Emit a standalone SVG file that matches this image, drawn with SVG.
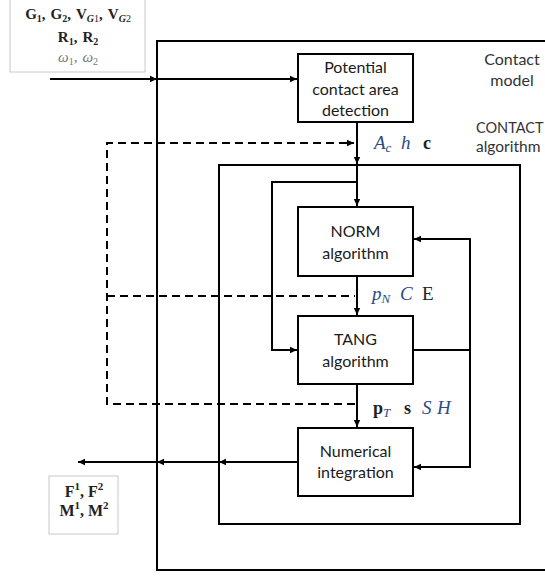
<svg xmlns="http://www.w3.org/2000/svg" width="545" height="576" viewBox="0 0 545 576">
<defs>
<marker id="ah" markerUnits="userSpaceOnUse" markerWidth="8" markerHeight="8" refX="7" refY="4" orient="auto">
<path d="M0,0.8 L7,4 L0,7.2 Z" fill="#000"/>
</marker>
<style>
.box{fill:#fff;stroke:#000;stroke-width:2}
.frame{fill:none;stroke:#000;stroke-width:2}
.ibox{fill:#fff;stroke:#c8c8c8;stroke-width:1}
.ln{fill:none;stroke:#000;stroke-width:2}
.arr{fill:none;stroke:#000;stroke-width:2;marker-end:url(#ah)}
.dash{fill:none;stroke:#000;stroke-width:2;stroke-dasharray:8,5}
.t{font-family:Lato,"Open Sans","Liberation Sans",sans-serif;font-size:16px;fill:#1a1a1a;text-anchor:middle}
.lab{font-family:Lato,"Open Sans","Liberation Sans",sans-serif;font-size:16px;fill:#333}
.m{font-family:"Liberation Serif","DejaVu Serif",serif;font-size:19px;fill:#222}
.mi{font-family:"Liberation Serif","DejaVu Serif",serif;font-size:19px;font-style:italic;fill:#2d4a8a}
.mb{font-family:"Liberation Serif","DejaVu Serif",serif;font-size:18px;font-weight:bold;fill:#222}
.ms{font-family:"Liberation Serif","DejaVu Serif",serif;font-size:15px;font-weight:bold;fill:#222;text-anchor:middle}
</style>
</defs>

<g id="frames">
<rect id="contact-model" class="frame" x="157" y="41" width="400" height="529"/>
<rect id="contact-algorithm" class="frame" x="219" y="165" width="301" height="359"/>
<text class="lab" x="512" y="65" text-anchor="middle">Contact</text>
<text class="lab" x="512" y="86" text-anchor="middle">model</text>
<text class="lab" x="476" y="133" style="font-size:14.5px">CONTACT</text>
<text class="lab" x="476" y="152" style="font-size:15.5px">algorithm</text>
</g>

<g id="inputs">
<rect class="ibox" x="10" y="-1" width="135" height="73"/>
<text class="ms" x="78" y="19">G<tspan font-size="10" dy="3">1</tspan><tspan dy="-3">,</tspan><tspan dx="5">G</tspan><tspan font-size="10" dy="3">2</tspan><tspan dy="-3">,</tspan><tspan dx="5">V</tspan><tspan font-size="10" dy="3" font-style="italic">G</tspan><tspan font-size="10" font-weight="normal">1</tspan><tspan dy="-3">,</tspan><tspan dx="5">V</tspan><tspan font-size="10" dy="3" font-style="italic">G</tspan><tspan font-size="10" font-weight="normal">2</tspan></text>
<text class="ms" x="78" y="42">R<tspan font-size="10" dy="3">1</tspan><tspan dy="-3">,</tspan><tspan dx="5">R</tspan><tspan font-size="10" dy="3">2</tspan></text>
<text class="ms" x="78" y="62" style="font-weight:normal;fill:#777"><tspan font-style="italic">ω</tspan><tspan font-size="10" dy="3">1</tspan><tspan dy="-3">,</tspan><tspan dx="5" font-style="italic">ω</tspan><tspan font-size="10" dy="3">2</tspan></text>
</g>

<g id="outputs">
<rect class="ibox" x="49" y="476" width="69" height="58"/>
<text class="ms" x="84" y="497" style="font-size:16px">F<tspan font-size="11" dy="-7">1</tspan><tspan dy="7">,</tspan><tspan dx="4">F</tspan><tspan font-size="11" dy="-7">2</tspan></text>
<text class="ms" x="84" y="516" style="font-size:16px">M<tspan font-size="11" dy="-7">1</tspan><tspan dy="7">,</tspan><tspan dx="4">M</tspan><tspan font-size="11" dy="-7">2</tspan></text>
</g>

<g id="potential">
<rect class="box" x="298" y="54" width="115" height="68"/>
<text class="t" x="355.5" y="73">Potential</text>
<text class="t" x="355.5" y="95">contact area</text>
<text class="t" x="355.5" y="116">detection</text>
</g>

<g id="norm">
<rect class="box" x="298" y="207" width="115" height="69"/>
<text class="t" x="355.5" y="237">NORM</text>
<text class="t" x="355.5" y="259">algorithm</text>
</g>

<g id="tang">
<rect class="box" x="298" y="316" width="115" height="68"/>
<text class="t" x="355.5" y="345">TANG</text>
<text class="t" x="355.5" y="367">algorithm</text>
</g>

<g id="numerical">
<rect class="box" x="298" y="428" width="115" height="68"/>
<text class="t" x="355.5" y="457">Numerical</text>
<text class="t" x="355.5" y="478">integration</text>
</g>

<g id="connectors">
<line class="arr" x1="50" y1="79" x2="157" y2="79"/>
<line class="arr" x1="157" y1="79" x2="297" y2="79"/>
<line class="arr" x1="357" y1="122" x2="357" y2="164"/>
<line class="arr" x1="357" y1="164" x2="357" y2="206"/>
<polyline class="arr" points="357,182 272,182 272,350 297,350"/>
<line class="arr" x1="357" y1="276" x2="357" y2="315"/>
<line class="arr" x1="357" y1="384" x2="357" y2="427"/>
<line class="ln" x1="413" y1="350" x2="470" y2="350"/>
<polyline class="arr" points="470,350 470,239 414,239"/>
<polyline class="arr" points="470,350 470,467 414,467"/>
<line class="arr" x1="298" y1="462" x2="219" y2="462"/>
<line class="arr" x1="219" y1="462" x2="157" y2="462"/>
<line class="arr" x1="157" y1="462" x2="78" y2="462"/>
<polyline class="dash" points="355,404 107,404 107,143 354,143" marker-end="url(#ah)"/>
<line class="dash" x1="107" y1="296" x2="355" y2="296"/>
</g>

<g id="labels">
<text class="mi" x="374" y="149">A<tspan font-size="13" dy="3">c</tspan></text>
<text class="mi" x="401" y="149">h</text>
<text class="mb" x="423" y="149">c</text>
<text class="mi" x="372" y="300">p<tspan font-size="13" dy="3">N</tspan></text>
<text class="mi" x="400" y="300">C</text>
<text class="m" x="422" y="300">E</text>
<text class="mb" x="373" y="414">p<tspan font-size="13" dy="3" font-style="italic" font-weight="normal" fill="#2d4a8a">T</tspan></text>
<text class="mb" x="404" y="414">s</text>
<text class="mi" x="422" y="414">S</text>
<text class="mi" x="437" y="414">H</text>
</g>
</svg>
